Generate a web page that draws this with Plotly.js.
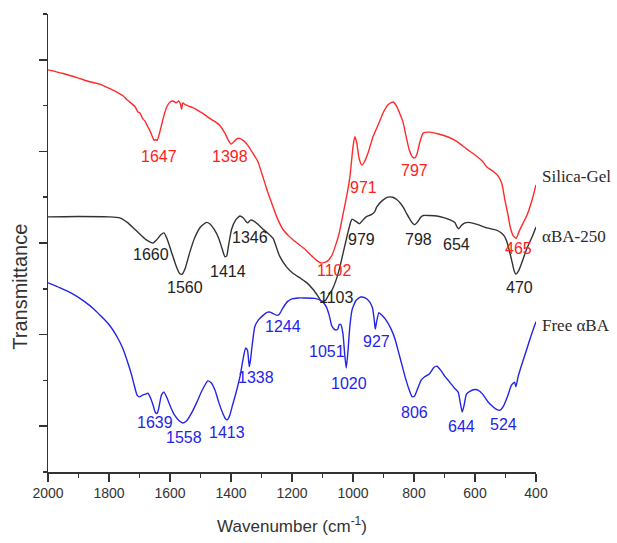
<!DOCTYPE html>
<html>
<head>
<meta charset="utf-8">
<script src="https://cdn.plot.ly/plotly-3.0.1.min.js"></script>
<style>html,body{margin:0;padding:0;background:#fff;}#chart{width:617px;height:543px;}</style>
</head>
<body>
<div id="chart"></div>
<script>
// Silica-Gel (red)
const silicaX = [2000,1950,1900,1863,1830,1800,1770,1755,1740,1725,1715,1705,1699,1690,1682,1676,1668,1660,1652,1647,1642,1632,1620,1610,1600,1590,1580,1572,1566,1562,1558,1550,1535,1520,1505,1490,1470,1450,1436,1420,1410,1400,1392,1380,1370,1360,1348,1330,1312,1300,1280,1265,1250,1230,1210,1197,1160,1131,1115,1102,1085,1070,1059,1045,1032,1020,1010,1000,994,988,980,971,962,950,935,915,900,885,869,858,845,836,825,815,805,797,790,780,770,748,720,690,660,627,600,575,561,540,524,512,502,492,485,475,465,455,442,430,413,400];
const silicaY = [8.78,8.70,8.60,8.52,8.47,8.38,8.28,8.22,8.12,8.04,7.98,7.86,7.84,7.72,7.66,7.58,7.48,7.36,7.24,7.26,7.24,7.46,7.78,7.98,8.08,8.10,8.06,8.10,8.04,7.92,8.06,8.02,7.98,7.94,7.88,7.82,7.72,7.64,7.56,7.40,7.26,7.16,7.20,7.28,7.28,7.24,7.16,6.98,6.78,6.54,6.12,5.84,5.57,5.30,5.15,5.07,4.88,4.69,4.60,4.56,4.60,4.72,4.91,5.22,5.65,6.05,6.45,7.10,7.32,7.20,6.85,6.70,6.78,6.98,7.31,7.62,7.86,8.02,8.08,8.00,7.80,7.64,7.30,7.02,6.88,6.86,6.95,7.22,7.40,7.42,7.38,7.32,7.22,7.05,6.92,6.78,6.66,6.56,6.46,6.30,5.94,5.62,5.36,5.16,5.10,5.26,5.44,5.60,5.94,6.27];

// αBA-250 (black)
const ba250X = [2000,1900,1800,1765,1740,1720,1700,1680,1665,1655,1645,1630,1620,1610,1595,1580,1568,1560,1550,1535,1520,1500,1480,1470,1455,1440,1428,1420,1414,1408,1398,1385,1371,1360,1346,1336,1325,1310,1295,1280,1262,1241,1218,1197,1170,1151,1130,1115,1103,1090,1080,1069,1055,1043,1030,1017,1008,1003,990,979,965,957,940,929,922,905,886,870,857,846,835,824,812,803,797,788,778,770,750,725,700,680,666,658,653,645,633,622,611,590,561,530,518,505,496,487,479,472,466,458,446,430,413,400];
const ba250Y = [5.57,5.58,5.57,5.55,5.45,5.33,5.20,5.08,5.02,5.00,5.06,5.18,5.22,5.10,4.80,4.50,4.33,4.32,4.45,4.80,5.10,5.35,5.45,5.42,5.30,5.10,4.85,4.70,4.72,4.95,5.30,5.50,5.59,5.55,5.44,5.50,5.48,5.40,5.30,5.22,5.10,4.72,4.48,4.34,4.22,4.13,3.98,3.84,3.72,3.75,3.86,3.97,4.20,4.48,4.85,5.22,5.45,5.52,5.47,5.42,5.52,5.57,5.62,5.68,5.79,5.92,6.00,6.00,5.95,5.88,5.78,5.64,5.50,5.42,5.40,5.46,5.56,5.60,5.60,5.59,5.55,5.50,5.45,5.34,5.31,5.38,5.44,5.45,5.44,5.40,5.33,5.28,5.24,5.16,5.04,4.82,4.60,4.40,4.32,4.38,4.58,4.88,5.13,5.35];

// Free αBA (blue)
const freeX = [2000,1960,1919,1880,1850,1830,1800,1771,1755,1738,1726,1716,1708,1700,1690,1680,1672,1664,1655,1648,1642,1636,1628,1620,1610,1598,1585,1570,1558,1545,1530,1513,1495,1476,1465,1452,1440,1428,1418,1412,1404,1395,1384,1370,1360,1352,1346,1340,1336,1330,1322,1310,1295,1280,1272,1262,1250,1242,1230,1215,1200,1180,1160,1125,1100,1087,1078,1070,1062,1055,1050,1045,1040,1033,1027,1022,1017,1010,1003,990,975,960,945,936,930,927,922,915,905,890,875,862,850,838,828,815,806,798,788,777,765,750,735,725,712,700,685,667,655,648,642,636,628,617,600,590,575,557,540,528,518,508,495,480,470,466,458,445,428,415,400];
const freeY = [4.13,4.02,3.89,3.72,3.56,3.43,3.22,2.92,2.70,2.38,2.12,1.86,1.68,1.64,1.68,1.70,1.72,1.62,1.45,1.30,1.28,1.42,1.68,1.75,1.62,1.42,1.24,1.12,1.07,1.12,1.28,1.51,1.78,1.99,1.95,1.78,1.52,1.30,1.16,1.14,1.24,1.46,1.72,2.10,2.48,2.71,2.66,2.30,2.45,2.80,3.17,3.32,3.42,3.49,3.49,3.46,3.42,3.44,3.58,3.72,3.78,3.80,3.80,3.79,3.72,3.60,3.42,3.20,3.12,3.10,3.12,3.22,3.22,3.02,2.55,2.27,2.60,3.20,3.54,3.75,3.82,3.80,3.71,3.58,3.30,3.12,3.30,3.48,3.42,3.30,3.12,2.90,2.60,2.30,2.05,1.78,1.64,1.66,1.82,2.00,2.08,2.14,2.28,2.31,2.22,2.10,1.98,1.83,1.74,1.50,1.31,1.45,1.70,1.76,1.80,1.79,1.70,1.53,1.42,1.36,1.35,1.42,1.62,1.90,1.96,1.86,2.10,2.38,2.73,3.00,3.28];

// Peak labels
const silicaPeakText = ['1647','1398','971','797','1102','465'];
const silicaPeakX = [1637,1404,964,797,1061,456];
const silicaPeakY = [6.88,6.88,6.22,6.59,4.41,4.89];

const ba250PeakText = ['1660','1560','1414','1346','1103','979','798','654','470'];
const ba250PeakX = [1661,1552,1410,1338,1054,971,784,661,453];
const ba250PeakY = [4.74,4.02,4.37,5.13,3.82,5.07,5.07,4.96,4.02];

const freePeakText = ['1639','1558','1413','1338','1244','1051','1020','927','806','644','524'];
const freePeakX = [1648,1555,1412,1319,1230,1086,1012,922,797,643,508];
const freePeakY = [1.07,0.76,0.87,2.07,3.17,2.64,1.94,2.84,1.31,1.00,1.03];

// Series names (end labels)
const seriesNames = ['Silica-Gel','αBA-250','Free αBA'];
const seriesLabelY = [6.45,5.15,3.2];

const xTickVals = [2000,1800,1600,1400,1200,1000,800,600,400];

const RED = '#ff2a2a', BLACK = '#333333', BLUE = '#2424e8';

const lineStyle = c => ({color: c, width: 1.4, shape: 'spline', smoothing: 0.5});
const traces = [
  {x: silicaX, y: silicaY, mode: 'lines', line: lineStyle(RED), hoverinfo: 'skip'},
  {x: ba250X, y: ba250Y, mode: 'lines', line: lineStyle(BLACK), hoverinfo: 'skip'},
  {x: freeX, y: freeY, mode: 'lines', line: lineStyle(BLUE), hoverinfo: 'skip'}
];

const annotations = [];
function addPeaks(texts, xs, ys, color) {
  texts.forEach((t, i) => annotations.push({
    x: xs[i], y: ys[i], xref: 'x', yref: 'y', text: t, showarrow: false,
    xanchor: 'center', yanchor: 'middle',
    font: {family: 'Arial, Liberation Sans, sans-serif', size: 16, color: color}
  }));
}
addPeaks(silicaPeakText, silicaPeakX, silicaPeakY, '#ff2020');
addPeaks(ba250PeakText, ba250PeakX, ba250PeakY, '#222222');
addPeaks(freePeakText, freePeakX, freePeakY, BLUE);

seriesNames.forEach((n, i) => annotations.push({
  x: 1.008, xref: 'paper', y: seriesLabelY[i], yref: 'y', text: n, showarrow: false,
  xanchor: 'left', yanchor: 'middle',
  font: {family: 'Liberation Serif, Times New Roman, serif', size: 17, color: '#2a2a2a'}
}));

// y-axis title drawn as rotated text, placed lower as in the reference
annotations.push({
  x: -0.059, xref: 'paper', y: 4.05, yref: 'y', text: 'Transmittance', showarrow: false,
  textangle: -90, xanchor: 'center', yanchor: 'middle',
  font: {family: 'Arial, Liberation Sans, sans-serif', size: 20, color: '#333'}
});

const layout = {
  width: 617, height: 543,
  margin: {l: 48, r: 81, t: 14, b: 71},
  paper_bgcolor: '#ffffff', plot_bgcolor: '#ffffff',
  showlegend: false,
  xaxis: {
    range: [2000, 400], autorange: false,
    tickmode: 'array', tickvals: xTickVals, ticktext: xTickVals.map(String),
    ticks: 'outside', ticklen: 8, tickwidth: 1.5, tickcolor: '#333',
    minor: {dtick: 100, tick0: 0, ticks: 'outside', ticklen: 4, tickwidth: 1.5, tickcolor: '#333'},
    showline: true, linecolor: '#333', linewidth: 1.5, mirror: false,
    showgrid: false, zeroline: false,
    tickfont: {family: 'Arial, Liberation Sans, sans-serif', size: 14, color: '#333'},
    title: {text: 'Wavenumber (cm<sup>-1</sup>)', standoff: 20,
            font: {family: 'Arial, Liberation Sans, sans-serif', size: 17, color: '#333'}}
  },
  yaxis: {
    range: [0, 10], autorange: false,
    tick0: 1, dtick: 2, showticklabels: false,
    ticks: 'outside', ticklen: 8, tickwidth: 1.5, tickcolor: '#333',
    minor: {dtick: 1, tick0: 0, ticks: 'outside', ticklen: 4, tickwidth: 1.5, tickcolor: '#333'},
    showline: true, linecolor: '#333', linewidth: 1.5, mirror: false,
    showgrid: false, zeroline: false
  },
  annotations: annotations
};

Plotly.newPlot('chart', traces, layout, {displayModeBar: false, staticPlot: true});
</script>
</body>
</html>
